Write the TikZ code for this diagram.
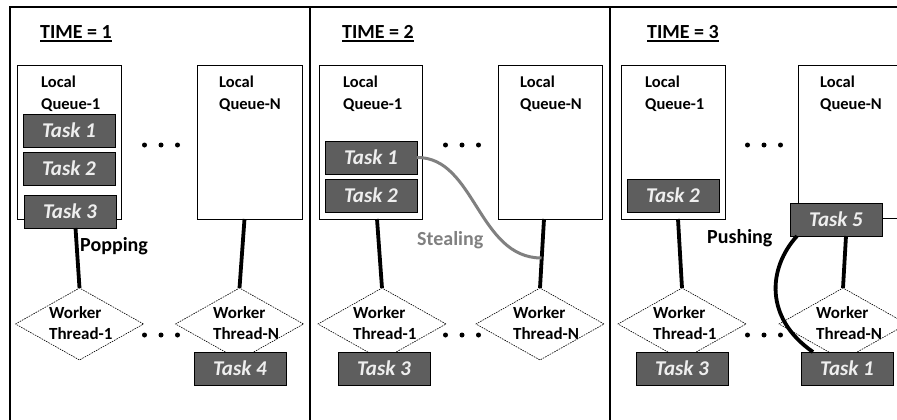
\documentclass[tikz,border=0pt]{standalone}
\usepackage{fontspec}
\setmainfont{Carlito}
\usetikzlibrary{shapes.geometric,calc}
\definecolor{taskgray}{HTML}{5E5E5E}
\definecolor{tasktext}{HTML}{EEEEEE}
\definecolor{stealgray}{HTML}{808080}
\begin{document}
\begin{tikzpicture}[x=1pt,y=-1pt,
  frame/.style={line width=2.6pt},
  qbox/.style={draw=black, line width=0.9pt, fill=white, anchor=north west, minimum height=154pt, inner sep=0pt, outer sep=0pt},
  qlabel/.style={anchor=base west, inner sep=0pt, align=left, font=\bfseries\fontsize{16.5}{21}\selectfont},
  wlabel/.style={anchor=base west, inner sep=0pt, align=left, font=\bfseries\fontsize{17}{21}\selectfont},
  task/.style={draw=black, line width=1pt, fill=taskgray, text=tasktext, anchor=north west, minimum width=92pt, minimum height=33pt, inner sep=0pt, outer sep=0pt, font=\bfseries\itshape\fontsize{21}{24}\selectfont},
  worker/.style={draw=black, line width=0.6pt, dash pattern=on 1.6pt off 1pt, diamond, minimum width=128pt, minimum height=72pt, inner sep=0pt, outer sep=0pt, fill=white},
  title/.style={anchor=base west, inner sep=0pt, font=\bfseries\fontsize{20}{24}\selectfont},
  conn/.style={line width=3.8pt},
  steal/.style={line width=3pt, draw=stealgray},
  actlabel/.style={anchor=base west, inner sep=0pt, font=\bfseries\fontsize{20}{24}\selectfont},
  dotmark/.style={circle, fill=black, inner sep=0pt, minimum size=5pt},
]
\useasboundingbox (0,0) rectangle (897,420);
\clip (0,0) rectangle (897,420);
\fill[white] (0,0) rectangle (897,420);

% frame
\draw[frame] (10,421) -- (10,7) -- (898,7);
\draw[frame] (310,7) -- (310,421);
\draw[frame] (610,7) -- (610,421);

% titles
\node[title] (a-title) at (40,39) {TIME = 1};
\node[title] (b-title) at (342,39) {TIME = 2};
\node[title] (c-title) at (647,39) {TIME = 3};
\foreach \p in {a,b,c}{
  \draw[line width=1.3pt] ([yshift=-2pt]\p-title.base west) -- ([yshift=-2pt]\p-title.base east);
}

% queue boxes
\node[qbox, minimum width=104pt] (a-q1) at (17,65) {};
\node[qbox, minimum width=105pt] (a-qN) at (197,65) {};
\node[qbox, minimum width=103pt] (b-q1) at (319,65) {};
\node[qbox, minimum width=104pt] (b-qN) at (498,65) {};
\node[qbox, minimum width=104pt] (c-q1) at (621,65) {};
\node[qbox, minimum width=130pt, minimum height=153pt] (c-qN) at (798,65) {};

\node[qlabel] (a-q1l) at (41,109) {Local\\Queue-1};
\node[qlabel] (a-qNl) at (219,109) {Local\\Queue-N};
\node[qlabel] (b-q1l) at (343,109) {Local\\Queue-1};
\node[qlabel] (b-qNl) at (520,109) {Local\\Queue-N};
\node[qlabel] (c-q1l) at (645,109) {Local\\Queue-1};
\node[qlabel] (c-qNl) at (820,109) {Local\\Queue-N};

% dots
\foreach \p/\x in {a/161,b/462,c/764}{
  \foreach \k/\n in {-1/l,0/m,1/r}{
    \node[dotmark] (\p-top\n) at (\x+\k*16.5,145) {};
    \node[dotmark] (\p-bot\n) at (\x+\k*16.5,335) {};
  }
}

% workers
\node[worker] (a-w1) at (79.5,324) {};
\node[worker] (a-wN) at (239.5,324) {};
\node[worker] (b-w1) at (382,324) {};
\node[worker] (b-wN) at (540,324) {};
\node[worker] (c-w1) at (682,324) {};
\node[worker] (c-wN) at (843,324) {};

\node[wlabel] (a-w1l) at (49,339) {Worker\\Thread-1};
\node[wlabel] (a-wNl) at (213,339) {Worker\\Thread-N};
\node[wlabel] (b-w1l) at (353,339) {Worker\\Thread-1};
\node[wlabel] (b-wNl) at (513,339) {Worker\\Thread-N};
\node[wlabel] (c-w1l) at (653,339) {Worker\\Thread-1};
\node[wlabel] (c-wNl) at (816,339) {Worker\\Thread-N};

% tasks
\node[task] (a-t1) at (23,114) {Task 1};
\node[task] (a-t2) at (23,152) {Task 2};
\node[task] (a-t3) at (24,195) {Task 3};
\node[task] (a-t4) at (194,352) {Task 4};
\node[task] (b-t1) at (325,141) {Task 1};
\node[task] (b-t2) at (325,179) {Task 2};
\node[task] (b-t3) at (338,352) {Task 3};
\node[task] (c-t2) at (627,179) {Task 2};
\node[task] (c-t5) at (790,203) {Task 5};
\node[task] (c-t3) at (636,352) {Task 3};
\node[task] (c-t1) at (801,352) {Task 1};

% connectors
\draw[conn] ([xshift=5.5pt]a-t3.south) -- (a-w1.north);
\draw[conn] ([xshift=-5pt]a-qN.south) -- (a-wN.north);
\draw[conn] ([xshift=6.5pt]b-q1.south) -- (b-w1.north);
\draw[conn] ([xshift=-6pt]b-qN.south) -- (b-wN.north);
\draw[conn] ([xshift=5pt]c-q1.south) -- (c-w1.north);
\draw[conn] ([xshift=10pt]c-t5.south) -- (c-wN.north);

% stealing
\coordinate (b-steal) at (541.5,258);
\draw[steal] (b-t1.east) .. controls (475,157) and (478,258) .. (b-steal);

% pushing
\draw[conn] ([xshift=7pt]c-t5.south west) .. controls (768,268) and (764,318) .. ([xshift=12pt]c-t1.north west);

% action labels
\node[actlabel] (a-pop) at (80,251.5) {Popping};
\node[actlabel, text=stealgray] (b-stl) at (417,245) {Stealing};
\node[actlabel] (c-push) at (707,243) {Pushing};
\end{tikzpicture}
\end{document}
